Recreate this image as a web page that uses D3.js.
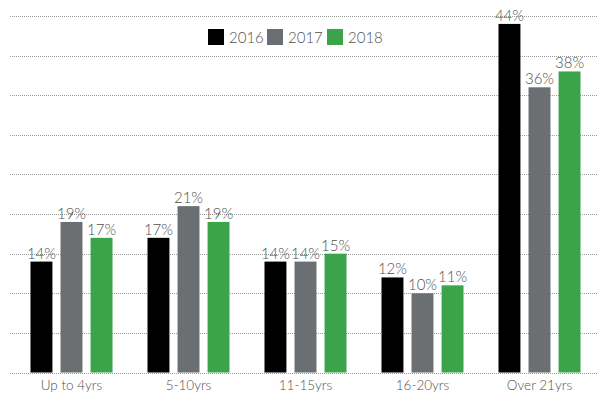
<!DOCTYPE html>
<html>
<head>
<meta charset="utf-8">
<script src="https://cdn.jsdelivr.net/npm/d3@7"></script>
<style>
  html, body { margin: 0; padding: 0; background: #fff; }
  svg text { font-family: "Lato", "DejaVu Sans", sans-serif; font-weight: 300; fill: #4f4f4f; }
</style>
</head>
<body>
<svg id="chart" width="598" height="397"></svg>
<script>
// Share of respondents by length of service
const categories = ["Up to 4yrs", "5-10yrs", "11-15yrs", "16-20yrs", "Over 21yrs"];
const years = ["2016", "2017", "2018"];
const values2016 = [14, 17, 14, 12, 44];
const values2017 = [19, 21, 14, 10, 36];
const values2018 = [17, 19, 15, 11, 38];
const gridTicks = [0, 5, 10, 15, 20, 25, 30, 35, 40, 45];
const colors = ["#000000", "#6b6f71", "#3ba34a"];

const series = [values2016, values2017, values2018];
const svg = d3.select("#chart");
const margin = { left: 13, right: 0, top: 16, bottom: 24.5 };
const width = 598, height = 397;

const x0 = d3.scaleBand().domain(categories)
  .range([margin.left, width - margin.right]).paddingInner(0).paddingOuter(0);
const x1 = d3.scaleBand().domain(years).range([0, 82]).paddingInner(0.27).paddingOuter(0);
const y = d3.scaleLinear().domain([0, 45]).range([height - margin.bottom, margin.top]);

// dotted gridlines
svg.append("g").selectAll("line").data(gridTicks).join("line")
  .attr("x1", 10).attr("x2", 597)
  .attr("y1", d => Math.round(y(d)) + 0.5).attr("y2", d => Math.round(y(d)) + 0.5)
  .attr("stroke", "#9a9a9a").attr("stroke-width", 1).attr("stroke-dasharray", "1,1");

const groupOffset = (x0.bandwidth() - 82) / 2;

const groups = svg.append("g").selectAll("g").data(categories).join("g")
  .attr("transform", c => `translate(${x0(c) + groupOffset},0)`);

groups.selectAll("rect").data((c, i) => years.map((yr, j) => ({ yr, j, v: series[j][i] })))
  .join("rect")
  .attr("x", d => x1(d.yr)).attr("width", x1.bandwidth())
  .attr("y", d => y(d.v)).attr("height", d => y(0) - y(d.v))
  .attr("fill", d => colors[d.j]);

groups.selectAll("text.val").data((c, i) => years.map((yr, j) => ({ yr, j, v: series[j][i] })))
  .join("text").attr("class", "val")
  .attr("x", d => x1(d.yr) + x1.bandwidth() / 2).attr("y", d => y(d.v) - 3)
  .attr("text-anchor", "middle").attr("font-size", 15)
  .text(d => d.v + "%");

// category axis labels
const xAxis = d3.axisBottom(x0).tickSize(0).tickPadding(0);
const ax = svg.append("g").attr("transform", `translate(0,${y(0)})`).call(xAxis);
ax.select(".domain").remove();
ax.selectAll("text").attr("dy", "1.3em").attr("font-size", 13.5)
  .style("font-family", "Lato, 'DejaVu Sans', sans-serif").style("font-weight", 300)
  .attr("fill", "#4f4f4f");

// legend
const legendX = [208, 267, 327];
const legend = svg.append("g").selectAll("g").data(years).join("g")
  .attr("transform", (d, i) => `translate(${legendX[i]},29)`);
legend.append("rect").attr("width", 16).attr("height", 16).attr("fill", (d, i) => colors[i]);
legend.append("text").attr("x", 21).attr("y", 14).attr("font-size", 15).text(d => d);
</script>
</body>
</html>
